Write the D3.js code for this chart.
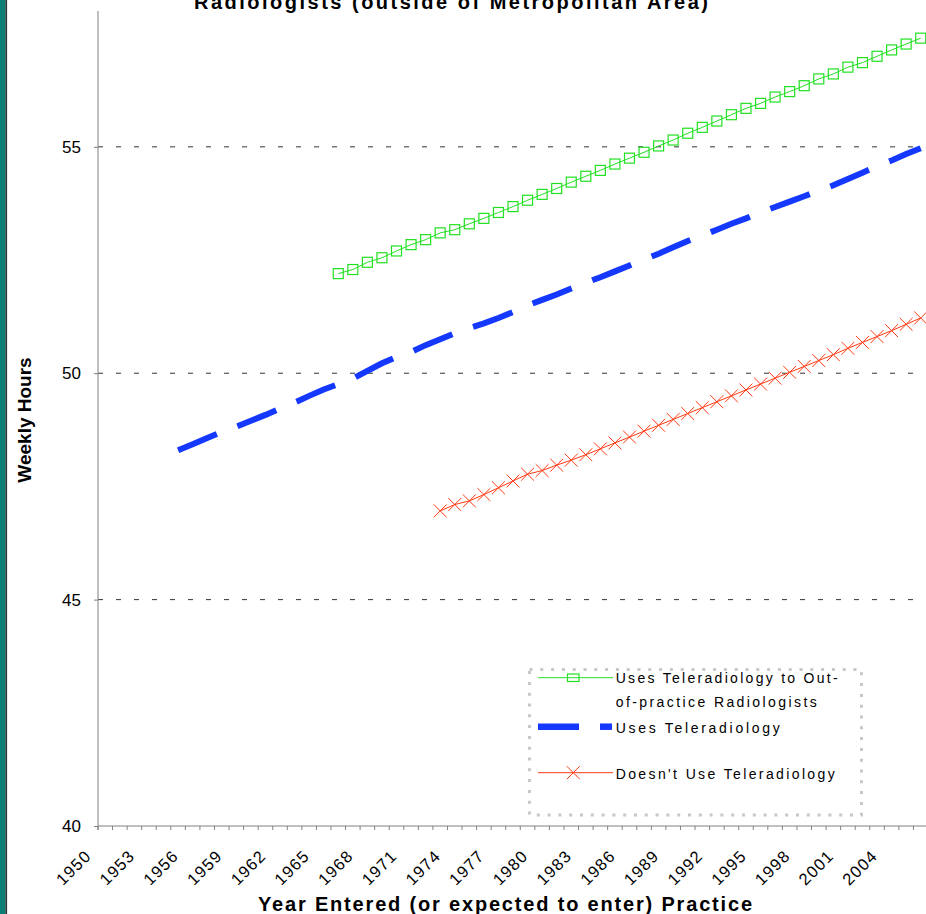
<!DOCTYPE html>
<html><head><meta charset="utf-8">
<script src="https://cdn.jsdelivr.net/npm/d3@7"></script>
<style>body{margin:0;background:#fff;}svg{display:block;font-family:Arial,"Liberation Sans",sans-serif;}</style>
</head><body>
<svg id="c" width="926" height="914"></svg>
<script>
const years = d3.range(1950, 2007);
const tickLabels = years.filter((y, i) => i % 3 === 0);
const yTicks = [40, 45, 50, 55];

const greenYears = d3.range(1966, 2007);
const greenValues = [52.20, 52.29, 52.45, 52.55, 52.70, 52.84, 52.95, 53.10, 53.17, 53.30,
  53.42, 53.55, 53.68, 53.82, 53.95, 54.08, 54.22, 54.35, 54.48, 54.62,
  54.75, 54.88, 55.02, 55.15, 55.30, 55.43, 55.57, 55.71, 55.85, 55.96,
  56.10, 56.22, 56.35, 56.50, 56.61, 56.76, 56.86, 57.00, 57.14, 57.27, 57.40];

const blueYears = d3.range(1955, 2007);
const blueValues = [48.30, 48.43, 48.57, 48.70, 48.82, 48.95, 49.08, 49.22, 49.35, 49.50,
  49.64, 49.76, 49.88, 50.05, 50.22, 50.36, 50.47, 50.62, 50.75, 50.88,
  51.00, 51.10, 51.22, 51.35, 51.50, 51.62, 51.74, 51.87, 52.00, 52.12,
  52.25, 52.38, 52.51, 52.64, 52.78, 52.92, 53.04, 53.17, 53.30, 53.42,
  53.55, 53.67, 53.79, 53.91, 54.03, 54.15, 54.29, 54.43, 54.57, 54.70,
  54.84, 54.97];

const redYears = d3.range(1973, 2007);
const redValues = [46.96, 47.10, 47.18, 47.32, 47.47, 47.62, 47.77, 47.85, 47.97, 48.08,
  48.20, 48.33, 48.46, 48.59, 48.72, 48.85, 48.98, 49.11, 49.24, 49.37,
  49.50, 49.63, 49.76, 49.89, 50.02, 50.15, 50.28, 50.41, 50.55, 50.68,
  50.81, 50.94, 51.08, 51.22];

const svg = d3.select("#c");
svg.append("rect").attr("x", 0).attr("y", 0).attr("width", 5.3).attr("height", 914).attr("fill", "#0b7f73");
svg.append("rect").attr("x", 5.3).attr("y", 0).attr("width", 1.8).attr("height", 914).attr("fill", "#243a3a");

const x = d3.scaleBand().domain(years).range([98, 928]).padding(0);
const y = d3.scaleLinear().domain([40, 58]).range([826, 11]);
const cx = yr => x(yr) + x.bandwidth() / 2;

svg.append("g").selectAll("line").data(yTicks.filter(t => t > 40)).join("line")
  .attr("x1", 98).attr("x2", 928).attr("y1", d => y(d)).attr("y2", d => y(d))
  .attr("stroke", "#333").attr("stroke-width", 1).attr("stroke-dasharray", "5,13");

const yAxis = svg.append("g").attr("transform", "translate(98,0)")
  .call(d3.axisLeft(y).tickValues(yTicks).tickSize(4).tickPadding(13).tickFormat(d3.format("d")));
yAxis.select(".domain").attr("stroke", "#808080").attr("d", `M0,11V830`);
yAxis.selectAll(".tick line").attr("stroke", "#808080");
yAxis.selectAll(".tick text").attr("font-size", 17).attr("fill", "#000").attr("font-family", "Arial, 'Liberation Sans', sans-serif");

const xg = svg.append("g").attr("transform", "translate(0,826)");
xg.append("line").attr("x1", 98).attr("x2", 928).attr("y1", 0).attr("y2", 0).attr("stroke", "#808080");
xg.selectAll("line.t").data(years).join("line").attr("class", "t")
  .attr("x1", d => x(d)).attr("x2", d => x(d)).attr("y1", 0).attr("y2", 4).attr("stroke", "#808080");
xg.selectAll("text").data(tickLabels).join("text")
  .attr("transform", d => `translate(${cx(d) - 13},31) rotate(-45)`)
  .attr("text-anchor", "end").attr("font-size", 16.5).attr("letter-spacing", 1.2).attr("fill", "#000").text(d => d);

const line = d3.line().x(d => cx(d[0])).y(d => y(d[1]));
const greenData = greenYears.map((yr, i) => [yr, greenValues[i]]);
const blueData = blueYears.map((yr, i) => [yr, blueValues[i]]);
const redData = redYears.map((yr, i) => [yr, redValues[i]]);

const GREEN = "#22e022", BLUE = "#1538ff", RED = "#ff3a12";

svg.append("path").datum(blueData).attr("d", line).attr("fill", "none")
  .attr("stroke", BLUE).attr("stroke-width", 6).attr("stroke-dasharray", "42,22");

svg.append("path").datum(greenData).attr("d", line).attr("fill", "none").attr("stroke", GREEN).attr("stroke-width", 1);
svg.append("g").selectAll("rect").data(greenData).join("rect")
  .attr("x", d => cx(d[0]) - 5).attr("y", d => y(d[1]) - 5).attr("width", 10).attr("height", 10)
  .attr("fill", "none").attr("stroke", GREEN).attr("stroke-width", 1.2);

svg.append("path").datum(redData).attr("d", line).attr("fill", "none").attr("stroke", RED).attr("stroke-width", 1);
const xm = d3.symbol().type(d3.symbolTimes).size(110);
svg.append("g").selectAll("path").data(redData).join("path")
  .attr("transform", d => `translate(${cx(d[0])},${y(d[1])})`)
  .attr("d", xm).attr("fill", "none").attr("stroke", RED).attr("stroke-width", 1);

svg.append("text").attr("x", 194).attr("y", 8.5).attr("font-size", 20).attr("font-weight", "bold")
  .attr("textLength", 514).attr("lengthAdjust", "spacing").text("Radiologists (outside of Metropolitan Area)");
svg.append("text").attr("x", 258).attr("y", 911).attr("font-size", 20).attr("font-weight", "bold")
  .attr("textLength", 494).attr("lengthAdjust", "spacing").text("Year Entered (or expected to enter) Practice");
svg.append("text").attr("transform", "translate(31,420) rotate(-90)").attr("text-anchor", "middle")
  .attr("font-size", 19).attr("font-weight", "bold").text("Weekly Hours");

const lg = svg.append("g");
lg.append("rect").attr("x", 529.5).attr("y", 669.5).attr("width", 332).attr("height", 145.5)
  .attr("fill", "none").attr("stroke", "#c8c8c8").attr("stroke-width", 3).attr("stroke-dasharray", "3,7.8");
lg.append("line").attr("x1", 538).attr("x2", 613).attr("y1", 677.7).attr("y2", 677.7).attr("stroke", GREEN);
lg.append("rect").attr("x", 567.5).attr("y", 674).attr("width", 11.5).attr("height", 7.5).attr("fill", "none").attr("stroke", GREEN).attr("stroke-width", 1.2);
lg.append("line").attr("x1", 538).attr("x2", 579).attr("y1", 726.7).attr("y2", 726.7).attr("stroke", BLUE).attr("stroke-width", 6.5);
lg.append("line").attr("x1", 600).attr("x2", 612).attr("y1", 726.7).attr("y2", 726.7).attr("stroke", BLUE).attr("stroke-width", 6.5);
lg.append("line").attr("x1", 538).attr("x2", 613).attr("y1", 772.7).attr("y2", 772.7).attr("stroke", RED);
lg.append("path").attr("transform", "translate(573.3,772.7)").attr("d", d3.symbol().type(d3.symbolTimes).size(110)).attr("fill", "none").attr("stroke", RED);
const legTexts = [["Uses Teleradiology to Out-", 683.3, 222], ["of-practice Radiologists", 706.7, 201], ["Uses Teleradiology", 732.7, 164], ["Doesn't Use Teleradiology", 779.3, 219]];
lg.selectAll("text").data(legTexts).join("text").attr("x", 615.7).attr("y", d => d[1])
  .attr("font-size", 14).attr("textLength", d => d[2]).attr("lengthAdjust", "spacing").text(d => d[0]);
</script>
</body></html>
